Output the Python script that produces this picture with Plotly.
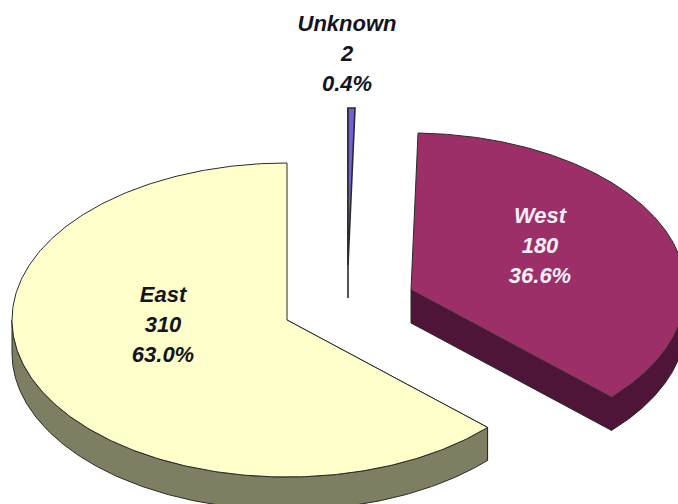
import numpy as np
import plotly.graph_objects as go

categories = ["Unknown", "West", "East"]
values = [2, 180, 310]

# styles / layout (pixel-scale plot space)
centers = {"Unknown": (348, 265), "West": (411, 290), "East": (287, 320)}
label_pos = {"Unknown": (347, 25), "West": (540, 217), "East": (163, 296)}
top_colors = {"Unknown": "#6F62D8", "West": "#9C2F68", "East": "#FFFFCC"}
wall_colors = {"Unknown": "#1A1A2E", "West": "#4F1538", "East": "#7E7E62"}
text_colors = {"Unknown": "#14141E", "West": "#F4EEF6", "East": "#14141A"}
edge_widths = {"Unknown": 1.6, "West": 1.0, "East": 1.0}
RX, RY, DEPTH = 275, 157, 33
LINE_GAP = 30
W, H = 678, 504
EDGE = "#2A2A2A"

total = sum(values)
fig = go.Figure()


def pt(c, theta, dy=0.0):
    return c[0] + RX * np.sin(theta), c[1] - RY * np.cos(theta) + dy


def poly(xs, ys, fill, width=1.0):
    fig.add_trace(go.Scatter(
        x=list(xs) + [xs[0]], y=list(ys) + [ys[0]], mode="lines", fill="toself",
        fillcolor=fill, line=dict(color=EDGE, width=width), hoverinfo="skip",
        showlegend=False))


start = 0.0
for name, val in zip(categories, values):
    sweep = 2 * np.pi * val / total
    end = start + sweep
    c = centers[name]
    lw = edge_widths[name]

    # straight cut faces
    for a in (start, end):
        if a == 0 or np.pi / 2 < a < 3 * np.pi / 2:
            ex, ey = pt(c, a)
            poly([c[0], ex, ex, c[0]], [c[1], ey, ey + DEPTH, c[1] + DEPTH], wall_colors[name], lw)

    # outer rim, front half of the ellipse only
    a0, a1 = max(start, np.pi / 2), min(end, 3 * np.pi / 2)
    if a1 > a0:
        t = np.linspace(a0, a1, 200)
        tx, ty = pt(c, t)
        poly(np.r_[tx, tx[::-1]], np.r_[ty, ty[::-1] + DEPTH], wall_colors[name], lw)

    # top surface
    t = np.linspace(start, end, 300)
    tx, ty = pt(c, t)
    poly(np.r_[c[0], tx], np.r_[c[1], ty], top_colors[name], lw)

    # label lines
    lx, ly = label_pos[name]
    lines = [name, str(val), f"{100 * val / total:.1f}%"]
    fig.add_trace(go.Scatter(
        x=[lx] * 3, y=[ly + i * LINE_GAP for i in range(3)], mode="text",
        text=[f"<b><i>{s}</i></b>" for s in lines], textposition="middle center",
        textfont=dict(family="Liberation Sans", size=22, color=text_colors[name]),
        hoverinfo="skip", showlegend=False))
    start = end

fig.update_layout(
    width=W, height=H, margin=dict(l=0, r=0, t=0, b=0),
    paper_bgcolor="white", plot_bgcolor="white", showlegend=False,
    xaxis=dict(range=[0, W], visible=False, fixedrange=True),
    yaxis=dict(range=[H, 0], visible=False, fixedrange=True),
)
fig.write_html("out.html", config={"displayModeBar": False},
               post_script="document.body.style.margin='0';document.body.style.overflow='hidden';")
